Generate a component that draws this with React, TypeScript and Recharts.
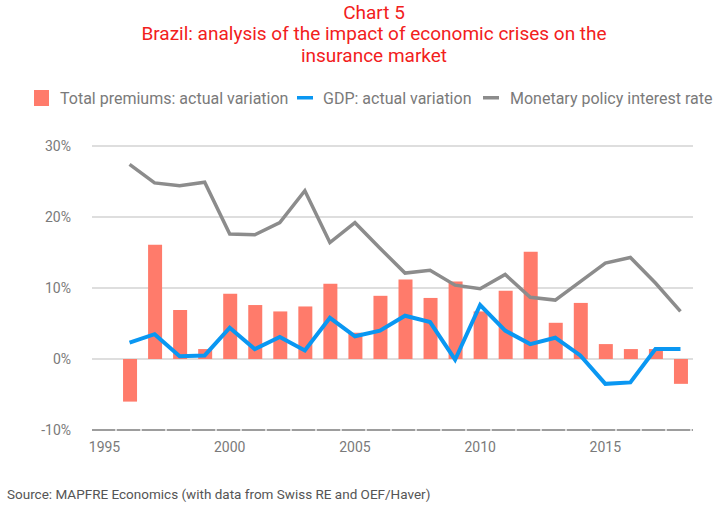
import React from "react";
import { ComposedChart, Bar, Line, XAxis, YAxis, CartesianGrid } from "recharts";

const years = [1995, 1996, 1997, 1998, 1999, 2000, 2001, 2002, 2003, 2004, 2005, 2006, 2007, 2008, 2009, 2010, 2011, 2012, 2013, 2014, 2015, 2016, 2017, 2018];
const premiums = [null, -6.0, 16.1, 6.9, 1.4, 9.2, 7.6, 6.7, 7.4, 10.6, 3.7, 8.9, 11.2, 8.6, 10.9, 6.7, 9.6, 15.1, 5.1, 7.9, 2.1, 1.4, 1.4, -3.5];
const gdp = [null, 2.3, 3.5, 0.4, 0.5, 4.4, 1.4, 3.1, 1.2, 5.8, 3.2, 4.0, 6.1, 5.2, -0.1, 7.6, 4.0, 2.1, 3.0, 0.5, -3.5, -3.3, 1.4, 1.4];
const interestRate = [null, 27.4, 24.8, 24.4, 24.9, 17.6, 17.5, 19.2, 23.7, 16.4, 19.2, 15.6, 12.1, 12.5, 10.4, 9.9, 11.9, 8.7, 8.3, 10.9, 13.5, 14.3, 10.7, 6.7];
const yTicks = [-10, 0, 10, 20, 30];
const titleLines = ["Chart 5", "Brazil: analysis of the impact of economic crises on the", "insurance market"];
const legendLabels = ["Total premiums: actual variation", "GDP: actual variation", "Monetary policy interest rate"];
const sourceText = "Source: MAPFRE Economics (with data from Swiss RE and OEF/Haver)";

const data = years.map((y, i) => ({ year: y, premiums: premiums[i], gdp: gdp[i], rate: interestRate[i] }));

const FONT = "Roboto, 'Liberation Sans', sans-serif";
const RED = "#FF7B6B";
const BLUE = "#0A97F2";
const GRAY = "#8C8C8C";
const TEXT = "#7A7A7A";

export default function App() {
  return (
    <div style={{ position: "absolute", left: 0, top: 0, width: 718, height: 505, background: "#fff", fontFamily: FONT }}>
      <ComposedChart
        width={718}
        height={505}
        data={data}
        margin={{ top: 146, right: 25, bottom: 45, left: 0 }}
        barCategoryGap="10%"
      >
        <CartesianGrid vertical={false} stroke="#BDBDBD" strokeWidth={1} />
        <XAxis
          dataKey="year"
          interval={0}
          height={30}
          tickLine={false}
          tickSize={6}
          tickMargin={6}
          axisLine={{ stroke: "#888", strokeWidth: 1.5, strokeDasharray: "23 2" }}
          tick={{ fill: TEXT, fontSize: 14, fontFamily: FONT }}
          tickFormatter={(v: number) => (v % 5 === 0 ? String(v) : "")}
        />
        <YAxis
          width={92}
          domain={[-10, 30]}
          ticks={yTicks}
          interval={0}
          axisLine={false}
          tickLine={false}
          tickSize={6}
          tickMargin={15}
          tick={{ fill: TEXT, fontSize: 14, fontFamily: FONT }}
          tickFormatter={(v: number) => `${v}%`}
        />
        <Bar dataKey="premiums" fill={RED} barSize={14} isAnimationActive={false} />
        <Line dataKey="gdp" stroke={BLUE} strokeWidth={4} dot={false} activeDot={false} isAnimationActive={false} />
        <Line dataKey="rate" stroke={GRAY} strokeWidth={3.5} dot={false} activeDot={false} isAnimationActive={false} />
      </ComposedChart>
      <svg width={718} height={505} style={{ position: "absolute", left: 0, top: 0, pointerEvents: "none" }}>
        <g fill="#F2201C" fontSize={19} fontFamily={FONT} textAnchor="middle">
          <text x={374} y={19}>{titleLines[0]}</text>
          <text x={374} y={40}>{titleLines[1]}</text>
          <text x={374} y={61.5}>{titleLines[2]}</text>
        </g>
        <g fontSize={16} fontFamily={FONT} fill={TEXT}>
          <rect x={34} y={90} width={15} height={16} fill={RED} />
          <text x={60} y={104}>{legendLabels[0]}</text>
          <rect x={297} y={96} width={16} height={3.5} fill={BLUE} />
          <text x={323} y={104}>{legendLabels[1]}</text>
          <rect x={483} y={96} width={16} height={3.5} fill={GRAY} />
          <text x={510} y={104}>{legendLabels[2]}</text>
        </g>
        <text x={7} y={499} fontSize={13.5} fontFamily={FONT} fill="#555">{sourceText}</text>
      </svg>
    </div>
  );
}
